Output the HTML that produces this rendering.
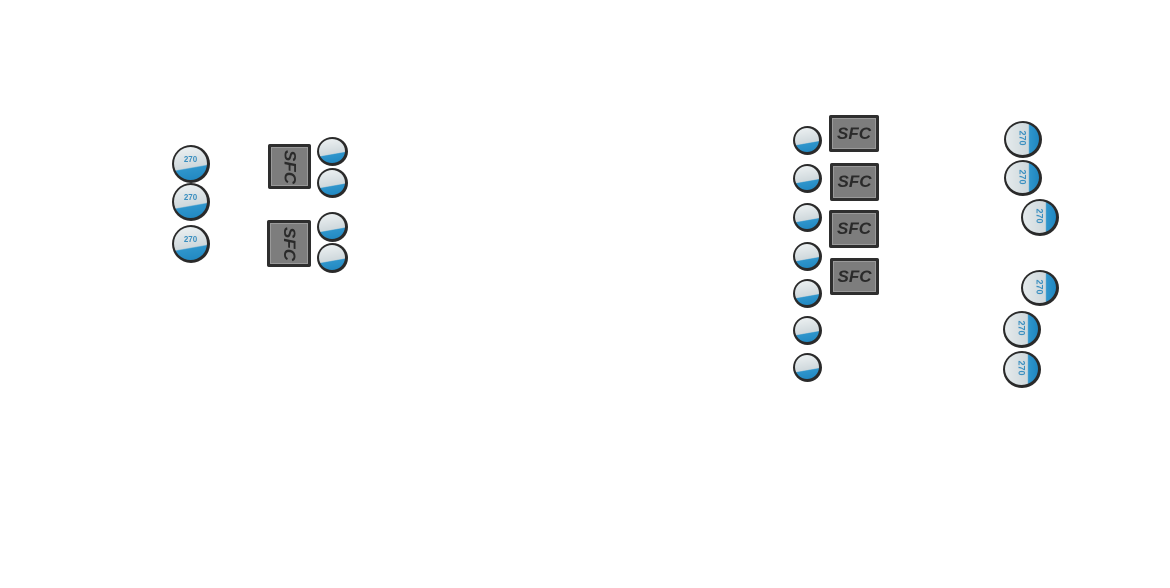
<!DOCTYPE html>
<html><head><meta charset="utf-8"><style>
html,body{margin:0;padding:0;background:#fff;width:1170px;height:588px;overflow:hidden;position:relative;font-family:"Liberation Sans",sans-serif}
.c{position:absolute;border-radius:50%;background:#2a2a2a;box-sizing:border-box}
.c i{position:absolute;left:2px;top:2px;right:3px;bottom:3px;border-radius:50%;display:block;overflow:hidden}
.b i{background:linear-gradient(170deg,#eef2f3 0%,#cfd8dc 60%,#2f95cc 63%,#1f86c0 100%)}
.r i{background:linear-gradient(90deg,#e4eaec 0%,#cfd8dc 68%,#2f95cc 71%,#1f86c0 100%)}
.c em{position:absolute;left:0;right:0;top:28%;text-align:center;font-size:8px;color:#3a8fc0;font-weight:bold;font-style:normal;line-height:8px}
.r em{transform:rotate(90deg);top:35%;font-size:9px}
.s{position:absolute;background:#2e2e2e;box-sizing:border-box;padding:3px;border-radius:2px}
.s div{width:100%;height:100%;background:#7d7d7d;box-sizing:border-box;border:1px solid #9a9a9a;display:flex;align-items:center;justify-content:center;font-weight:bold;font-style:italic;color:#2a2a2a;font-size:17px}
.v div{writing-mode:vertical-rl}
</style></head><body>
<div class="c b" style="left:172px;top:145px;width:38px;height:38px"><i><em>270</em></i></div>
<div class="c b" style="left:172px;top:183px;width:38px;height:38px"><i><em>270</em></i></div>
<div class="c b" style="left:172px;top:225px;width:38px;height:38px"><i><em>270</em></i></div>
<div class="s v" style="left:268px;top:144px;width:43px;height:45px"><div>SFC</div></div>
<div class="s v" style="left:267px;top:220px;width:44px;height:47px"><div>SFC</div></div>
<div class="c b" style="left:317px;top:137px;width:31px;height:29px"><i></i></div>
<div class="c b" style="left:317px;top:168px;width:31px;height:30px"><i></i></div>
<div class="c b" style="left:317px;top:212px;width:31px;height:30px"><i></i></div>
<div class="c b" style="left:317px;top:243px;width:31px;height:30px"><i></i></div>
<div class="c b" style="left:793px;top:126px;width:29px;height:29px"><i></i></div>
<div class="c b" style="left:793px;top:164px;width:29px;height:29px"><i></i></div>
<div class="c b" style="left:793px;top:203px;width:29px;height:29px"><i></i></div>
<div class="c b" style="left:793px;top:242px;width:29px;height:29px"><i></i></div>
<div class="c b" style="left:793px;top:279px;width:29px;height:29px"><i></i></div>
<div class="c b" style="left:793px;top:316px;width:29px;height:29px"><i></i></div>
<div class="c b" style="left:793px;top:353px;width:29px;height:29px"><i></i></div>
<div class="s" style="left:829px;top:115px;width:50px;height:37px"><div>SFC</div></div>
<div class="s" style="left:830px;top:163px;width:49px;height:38px"><div>SFC</div></div>
<div class="s" style="left:829px;top:210px;width:50px;height:38px"><div>SFC</div></div>
<div class="s" style="left:830px;top:258px;width:49px;height:37px"><div>SFC</div></div>
<div class="c r" style="left:1004px;top:121px;width:38px;height:37px"><i><em>270</em></i></div>
<div class="c r" style="left:1004px;top:160px;width:38px;height:36px"><i><em>270</em></i></div>
<div class="c r" style="left:1021px;top:199px;width:38px;height:37px"><i><em>270</em></i></div>
<div class="c r" style="left:1021px;top:270px;width:38px;height:36px"><i><em>270</em></i></div>
<div class="c r" style="left:1003px;top:311px;width:38px;height:37px"><i><em>270</em></i></div>
<div class="c r" style="left:1003px;top:351px;width:38px;height:37px"><i><em>270</em></i></div>
</body></html>
